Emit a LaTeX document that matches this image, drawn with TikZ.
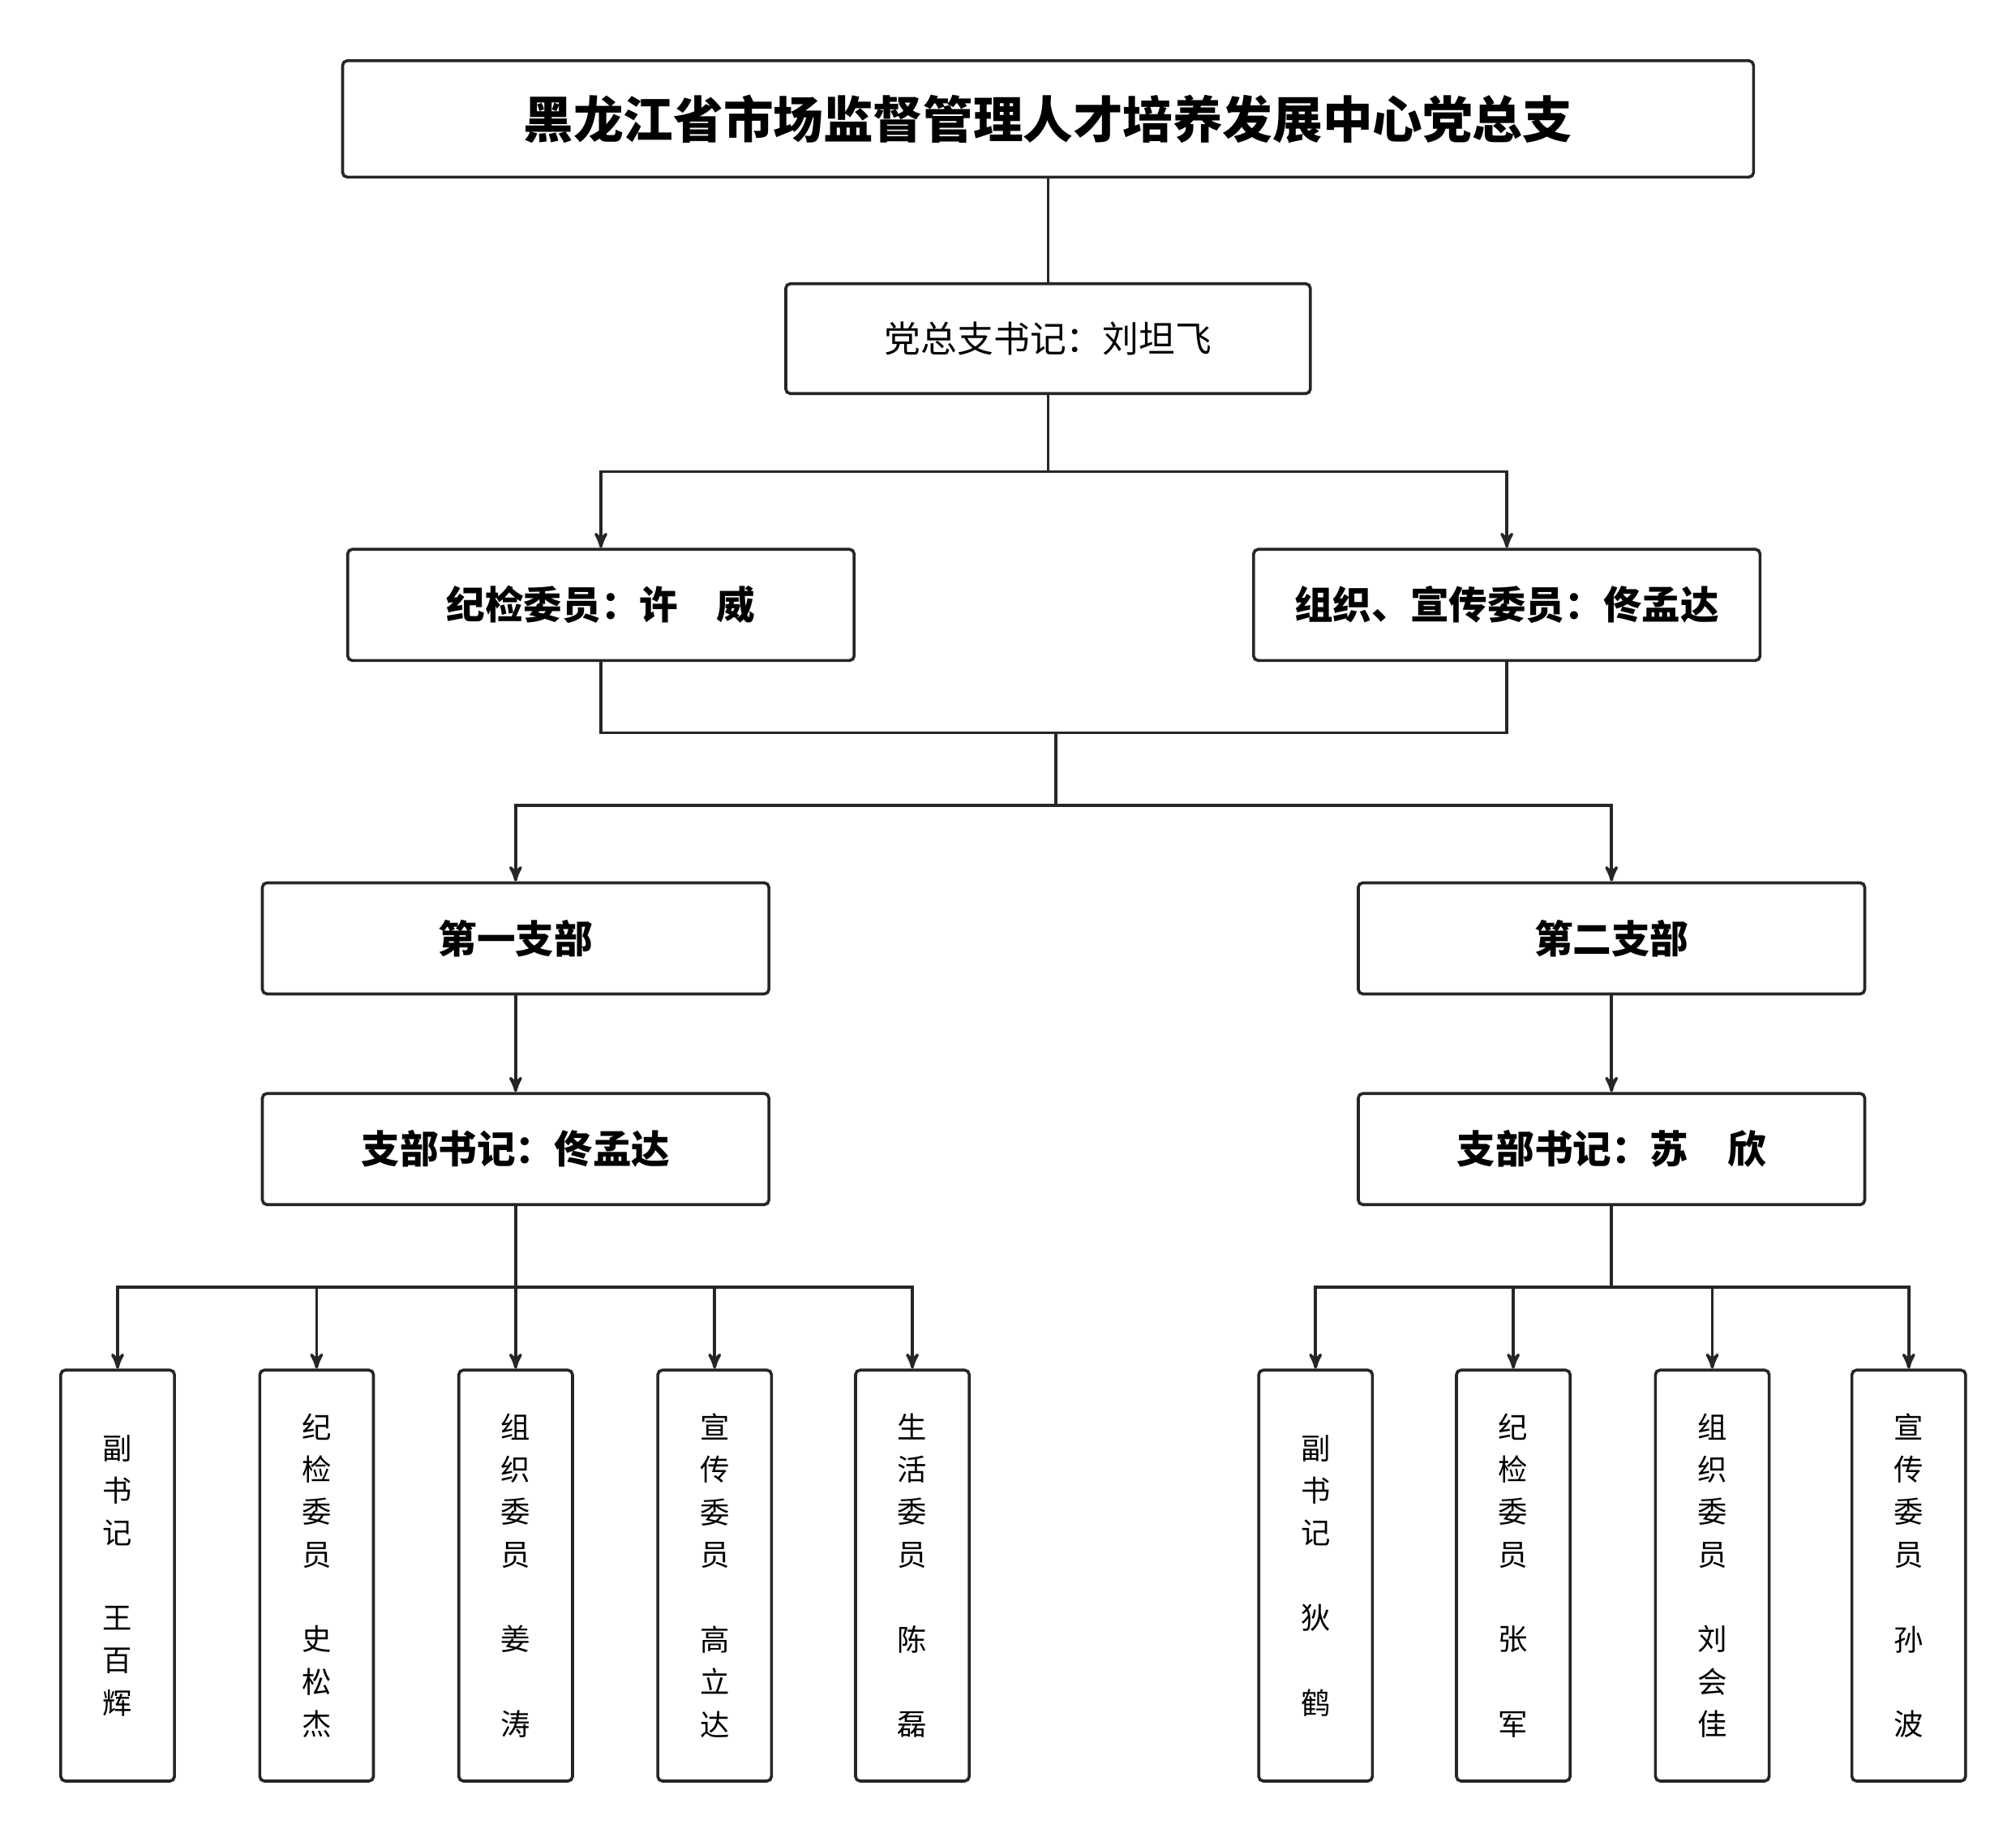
\documentclass[tikz,border=0pt]{standalone}
\usepackage{fontspec}
\setmainfont{Noto Sans CJK SC}
\usetikzlibrary{arrows,positioning}
\tikzset
    {
        bx/.style = {draw=black!85, line width=1.3pt, rounded corners=2pt, align=center, inner sep=0pt},
        big/.style = {bx, minimum width=7.84cm, minimum height=1.72cm, font=\fontsize{17}{20}\selectfont\bfseries},
        small/.style = {bx, minimum width=1.76cm, minimum height=6.36cm, font=\fontsize{13}{18.7}\selectfont},
        ln/.style = {draw=black!85, line width=1.3pt}
    }

\begin{document}
\begin{tikzpicture}[x=0.02cm, y=-0.02cm, >=stealth']
    \useasboundingbox (0,0) rectangle (1560,1418);
    \node [bx, minimum width=21.84cm, minimum height=1.8cm, font=\fontsize{22}{26}\selectfont\bfseries] (top) at (811,92) {黑龙江省市场监督管理人才培养发展中心党总支};
    \node [bx, minimum width=8.12cm, minimum height=1.7cm, font=\fontsize{16}{20}\selectfont] (sec) at (811,262) {党总支书记：刘坦飞};
    \node [big] (jj) at (465,468) {纪检委员：许\quad 威};
    \node [big] (zz) at (1166,468) {组织、宣传委员：佟孟达};
    \node [big] (b1) at (399,726) {第一支部};
    \node [big] (b2) at (1247,726) {第二支部};
    \node [big] (s1) at (399,889) {支部书记：佟孟达};
    \node [big] (s2) at (1247,889) {支部书记：苏\quad 欣};
    % first branch members
    \node [small] (a1) at (91,1219) {副\\书\\记\\\mbox{}\\王\\百\\辉};
    \node [small] (a2) at (245,1219) {纪\\检\\委\\员\\\mbox{}\\史\\松\\杰};
    \node [small] (a3) at (399,1219) {组\\织\\委\\员\\\mbox{}\\姜\\\mbox{}\\涛};
    \node [small] (a4) at (553,1219) {宣\\传\\委\\员\\\mbox{}\\高\\立\\达};
    \node [small] (a5) at (706,1219) {生\\活\\委\\员\\\mbox{}\\陈\\\mbox{}\\磊};
    % second branch members
    \node [small] (c1) at (1018,1219) {副\\书\\记\\\mbox{}\\狄\\\mbox{}\\鹤};
    \node [small] (c2) at (1171,1219) {纪\\检\\委\\员\\\mbox{}\\张\\\mbox{}\\军};
    \node [small] (c3) at (1325,1219) {组\\织\\委\\员\\\mbox{}\\刘\\会\\佳};
    \node [small] (c4) at (1477,1219) {宣\\传\\委\\员\\\mbox{}\\孙\\\mbox{}\\波};

    \draw [ln] (top) -- (sec);
    \draw [ln] (sec.south) -- (811,365);
    \draw [ln,->] (811,365) -| (jj);
    \draw [ln,->] (811,365) -| (zz);
    \draw [ln] (jj.south) |- (817,567) -| (zz.south);
    \draw [ln] (817,567) -- (817,623);
    \draw [ln,->] (817,623) -| (b1);
    \draw [ln,->] (817,623) -| (b2);
    \draw [ln,->] (b1) -- (s1);
    \draw [ln,->] (b2) -- (s2);
    \draw [ln] (s1.south) -- (399,996);
    \foreach \n in {a1,a2,a3,a4,a5}
        \draw [ln,->] (399,996) -| (\n.north);
    \draw [ln] (s2.south) -- (1247,996);
    \foreach \n in {c1,c2,c3,c4}
        \draw [ln,->] (1247,996) -| (\n.north);
\end{tikzpicture}
\end{document}
